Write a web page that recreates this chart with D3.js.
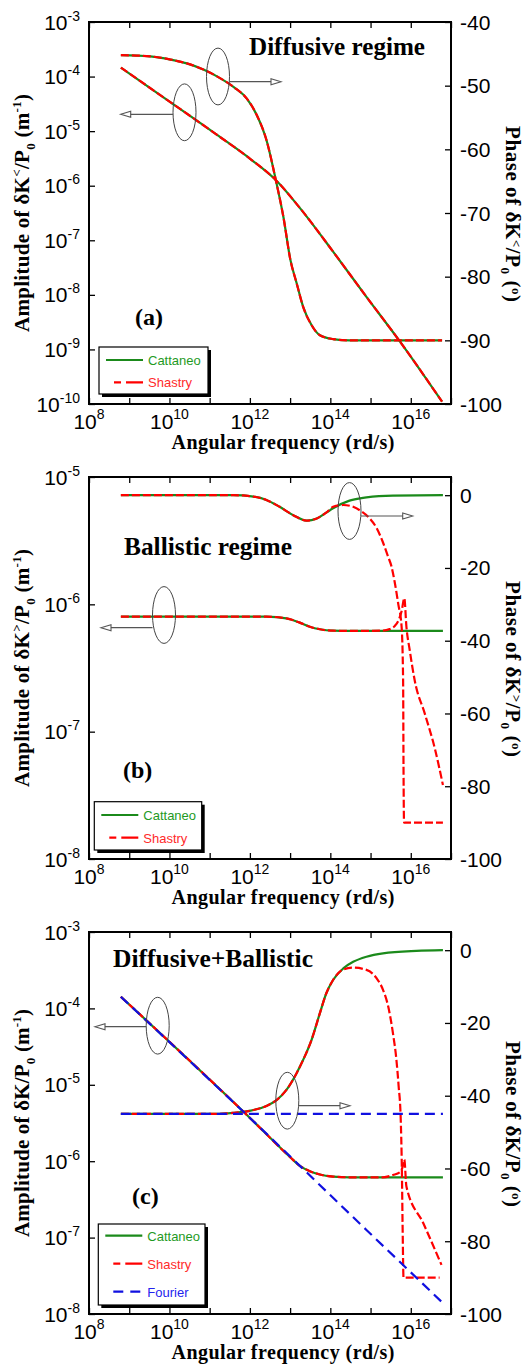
<!DOCTYPE html>
<html>
<head>
<meta charset="utf-8">
<script src="https://cdn.jsdelivr.net/npm/d3@7"></script>
<style>
  body { margin: 0; background: #fff; }
  svg { display: block; }
  .num { font-family: "Liberation Sans", Arial, sans-serif; font-size: 21px; fill: #000; }
  .ttl { font-family: "Liberation Serif", "Times New Roman", serif; font-weight: bold; fill: #000; }
  .leg { font-family: "Liberation Sans", Arial, sans-serif; font-size: 13px; }
</style>
</head>
<body>
<svg id="chart" width="527" height="1368"></svg>
<script>
// ---- shared x axis (angular frequency, rd/s) ----
const xTicks = [1e8, 1e9, 1e10, 1e11, 1e12, 1e13, 1e14, 1e15, 1e16, 1e17];
const xLabelTicks = [1e8, 1e10, 1e12, 1e14, 1e16];

// ---- (a) diffusive regime (Shastry coincides with Cattaneo) ----
const aAmpW = [6.2e8, 1.07e10, 1.35e11, 1.05e12, 4.4e12, 1.78e13, 1.17e14, 7.9e14, 5.4e15, 6.0e16];
const aAmp = [1.46e-4, 3.37e-5, 9.1e-6, 3.05e-6, 1.27e-6, 3.85e-7, 6.2e-8, 9.2e-9, 1.39e-9, 1.10e-10];
const aPhaseW = [6.2e8, 3.3e9, 1.07e10, 2.7e10, 7.2e10, 1.48e11, 3.9e11, 8.3e11, 1.48e12, 2.57e12,
  4.4e12, 6.8e12, 1.02e13, 1.45e13, 2.1e13, 3.4e13, 5.5e13, 1.17e14, 3.0e14, 6.0e16];
const aPhase = [-45.2, -45.4, -45.9, -46.5, -47.5, -48.5, -50.2, -52.0, -54.6, -58.5,
  -64.8, -70.6, -77.4, -81.0, -84.7, -87.6, -89.2, -89.8, -90.0, -90.0];

// ---- (b) ballistic regime ----
const bCattAmpW = [6.2e8, 2.57e12, 8.1e12, 1.74e13, 3.1e13, 5.5e13, 1.17e14, 3.0e14, 6.3e16];
const bCattAmp = [8.0e-7, 8.0e-7, 7.76e-7, 7.18e-7, 6.67e-7, 6.37e-7, 6.21e-7, 6.18e-7, 6.18e-7];
const bShasAmpW = [6.2e8, 2.57e12, 8.1e12, 1.74e13, 3.1e13, 5.5e13, 1.17e14, 3.0e14, 2.0e15, 3.0e15,
  4.0e15, 5.0e15, 6.0e15, 6.9e15, 7.8e15, 9.4e15, 1.26e16, 2.24e16, 4.0e16, 6.3e16];
const bShasAmp = [8.0e-7, 8.0e-7, 7.76e-7, 7.18e-7, 6.67e-7, 6.37e-7, 6.21e-7, 6.18e-7, 6.21e-7, 6.40e-7,
  6.76e-7, 7.53e-7, 9.0e-7, 1.12e-6, 6.64e-7, 4.38e-7, 2.50e-7, 1.38e-7, 7.3e-8, 3.81e-8];
const bCattPhaseW = [6.2e8, 3.9e11, 1.23e12, 2.57e12, 5.5e12, 1.2e13, 2.57e13, 4.6e13, 7.9e13, 1.17e14,
  3.0e14, 7.9e14, 3.6e15, 6.3e16];
const bCattPhase = [0, 0, -0.4, -1.3, -3.2, -5.5, -7.0, -6.4, -4.8, -3.6, -1.5, -0.6, -0.1, 0];
const bShasPhaseW = [6.2e8, 3.9e11, 1.23e12, 2.57e12, 5.5e12, 1.2e13, 2.57e13, 4.6e13, 7.9e13, 1.17e14,
  2.1e14, 3.7e14, 6.0e14, 9.5e14, 1.41e15, 2.04e15, 2.75e15, 3.3e15, 4.0e15, 4.9e15,
  5.9e15, 6.45e15, 6.6e15, 6.8e15, 6.3e16];
const bShasPhase = [0, 0, -0.4, -1.3, -3.2, -5.5, -7.0, -6.4, -4.8, -3.2,
  -2.7, -3.2, -4.5, -6.4, -9.0, -13.0, -17.0, -19.5, -24, -30,
  -36, -51, -75, -90, -90];

// ---- (c) diffusive + ballistic ----
const cCattAmpW = [6.2e8, 1.05e12, 1.02e13, 1.74e13, 3.1e13, 5.5e13, 1.17e14, 3.0e14, 6.3e16];
const cCattAmp = [1.42e-4, 3.6e-6, 1.12e-6, 8.7e-7, 7.4e-7, 6.7e-7, 6.3e-7, 6.16e-7, 6.16e-7];
const cShasAmpW = [6.2e8, 1.05e12, 1.02e13, 1.74e13, 3.1e13, 5.5e13, 1.17e14, 3.0e14, 2.04e15, 3.6e15,
  5.4e15, 6.3e15, 6.9e15, 7.8e15, 2.04e16, 5.8e16];
const cShasAmp = [1.42e-4, 3.6e-6, 1.12e-6, 8.7e-7, 7.4e-7, 6.7e-7, 6.3e-7, 6.16e-7, 6.16e-7, 6.6e-7,
  7.2e-7, 8.5e-7, 1.05e-6, 4.65e-7, 1.55e-7, 4.4e-8];
const cFourAmpW = [6.2e8, 1.05e12, 7.9e14, 5.8e16];
const cFourAmp = [1.42e-4, 3.6e-6, 1.26e-7, 1.45e-8];
const cCattPhaseW = [6.2e8, 1.48e11, 3.9e11, 1.05e12, 2.57e12, 4.6e12, 8.1e12, 1.45e13, 2.1e13, 3.4e13,
  5.5e13, 7.9e13, 1.17e14, 2.1e14, 3.7e14, 7.9e14, 2.04e15, 1.38e16, 6.3e16];
const cCattPhase = [-45, -45, -44.7, -44.1, -42.8, -41.2, -38.4, -33.8, -30.2, -24.7,
  -17.3, -11.9, -8.2, -5.0, -3.2, -1.8, -0.86, -0.2, 0];
const cShasPhaseW = [6.2e8, 1.48e11, 3.9e11, 1.05e12, 2.57e12, 4.6e12, 8.1e12, 1.45e13, 2.1e13, 3.4e13,
  5.5e13, 7.9e13, 1.17e14, 2.1e14, 3.7e14, 7.9e14, 1.41e15, 2.04e15, 2.75e15, 3.6e15,
  4.4e15, 5.0e15, 5.6e15, 6.0e15, 6.3e15, 6.6e15, 5.2e16];
const cShasPhase = [-45, -45, -44.7, -44.1, -42.8, -41.2, -38.4, -33.8, -30.2, -24.7,
  -17.3, -11.9, -8.2, -5.3, -4.8, -5.4, -7.7, -10.9, -15.5, -22.8,
  -30.2, -37.5, -45.8, -60, -78, -90, -90];
const cFourPhaseW = [6.2e8, 6.3e16];
const cFourPhase = [-45, -45];

// ---- layout ----
const svg = d3.select("#chart");
const LEFT = 89, W = 362, H = 382;
const x = d3.scaleLog().domain([1e8, 1e17]).range([0, W]);

const styles = {
  cattaneo: { stroke: "#1b8a1b", dash: null, text: "#1f9a1f", label: "Cattaneo" },
  shastry: { stroke: "#ff0000", dash: "8,3", text: "#ff2a2a", label: "Shastry" },
  fourier: { stroke: "#1010e0", dash: "10,6", text: "#2323ee", label: "Fourier" }
};
const legendDash = { cattaneo: null, shastry: "7,5,17", fourier: "10,7" };

function rich(t, parts, small, up) {
  let cur = 0;
  parts.forEach(([s, k]) => {
    const target = k === "sup" ? -up : k === "sub" ? up * 0.8 : 0;
    const ts = t.append("tspan").attr("dy", target - cur).text(s);
    if (k !== "n") ts.attr("font-size", small);
    cur = target;
  });
}

function arrow(x1, x2, y) {
  const dir = x2 > x1 ? 1 : -1;
  svg.append("line").attr("x1", x1).attr("x2", x2 - dir * 9).attr("y1", y).attr("y2", y)
    .attr("stroke", "#555").attr("stroke-width", 1.2);
  svg.append("path")
    .attr("d", `M${x2},${y} L${x2 - dir * 10},${y - 3} L${x2 - dir * 10},${y + 3} Z`)
    .attr("fill", "#fff").attr("stroke", "#555").attr("stroke-width", 1.1);
}

function drawPanel(p) {
  const g = svg.append("g").attr("transform", `translate(${LEFT},${p.top})`);
  const yAmp = d3.scaleLog().domain(p.ampDomain).range([H, 0]);
  const yPh = d3.scaleLinear().domain(p.phaseDomain).range([H, 0]);

  // inward ticks on all four sides
  g.append("g").attr("class", "ax").attr("transform", `translate(0,${H})`)
    .call(d3.axisBottom(x).tickValues(xTicks).tickSize(-6).tickFormat(""));
  g.append("g").attr("class", "ax")
    .call(d3.axisTop(x).tickValues(xTicks).tickSize(-6).tickFormat(""));
  g.append("g").attr("class", "ax")
    .call(d3.axisLeft(yAmp).tickValues(p.ampTicks).tickSize(-6).tickFormat(""));
  g.append("g").attr("class", "ax").attr("transform", `translate(${W},0)`)
    .call(d3.axisRight(yPh).tickValues(p.phaseTicks).tickSize(-6).tickFormat(""));
  g.selectAll(".ax .domain").remove();
  g.selectAll(".ax line").attr("stroke", "#000").attr("stroke-width", 1.3);

  // tick labels
  xLabelTicks.forEach(v => {
    const t = g.append("text").attr("class", "num").attr("x", x(v)).attr("y", H + 25)
      .attr("text-anchor", "middle");
    rich(t, [["10", "n"], [String(Math.round(Math.log10(v))), "sup"]], 14, 10);
  });
  p.ampTicks.forEach(v => {
    const t = g.append("text").attr("class", "num").attr("x", -9).attr("y", yAmp(v) + 7.5)
      .attr("text-anchor", "end");
    rich(t, [["10", "n"], [String(Math.round(Math.log10(v))), "sup"]], 14, 9);
  });
  p.phaseTicks.forEach(v => {
    g.append("text").attr("class", "num").attr("x", W + 9).attr("y", yPh(v) + 7.5)
      .text(v);
  });

  // curves
  p.series.forEach(s => {
    const y = s.axis === "amp" ? yAmp : yPh;
    const line = d3.line().x(d => x(d[0])).y(d => y(d[1])).curve(d3.curveMonotoneX);
    const st = styles[s.kind];
    g.append("path").attr("d", line(d3.zip(s.w, s.v)))
      .attr("fill", "none").attr("stroke", st.stroke).attr("stroke-width", 2.2)
      .attr("stroke-dasharray", st.dash);
  });

  // frame
  g.append("rect").attr("width", W).attr("height", H)
    .attr("fill", "none").attr("stroke", "#000").attr("stroke-width", 2);

  // axis titles
  svg.append("text").attr("class", "ttl").attr("font-size", 20)
    .attr("x", 283).attr("y", p.top + H + 45).attr("text-anchor", "middle")
    .attr("textLength", 223).attr("lengthAdjust", "spacing")
    .text("Angular frequency (rd/s)");

  const lt = svg.append("text").attr("class", "ttl").attr("font-size", 21)
    .attr("text-anchor", "middle").attr("textLength", p.llen).attr("lengthAdjust", "spacing")
    .attr("transform", `translate(28.5,${p.top + H / 2}) rotate(-90)`);
  const k = p.sym ? [["Amplitude of \u03b4K", "n"], [p.sym, "sup"], ["/P", "n"]] : [["Amplitude of \u03b4K/P", "n"]];
  rich(lt, k.concat([["0", "sub"], ["\u00a0(m", "n"], ["-1", "sup"], [")", "n"]]), 13, 8);

  const rt = svg.append("text").attr("class", "ttl").attr("font-size", 21)
    .attr("text-anchor", "middle").attr("textLength", p.rlen).attr("lengthAdjust", "spacing")
    .attr("transform", `translate(506,${p.top + H / 2 + 1}) rotate(90)`);
  const r = p.sym ? [["Phase of \u03b4K", "n"], [p.sym, "sup"], ["/P", "n"]] : [["Phase of \u03b4K/P", "n"]];
  rich(rt, r.concat([["0", "sub"], ["\u00a0(", "n"], ["o", "sup"], [")", "n"]]), 13, 6);

  // panel title and tag
  svg.append("text").attr("class", "ttl").attr("font-size", 25)
    .attr("x", p.title.x).attr("y", p.title.y)
    .attr("textLength", p.title.len).attr("lengthAdjust", "spacingAndGlyphs")
    .text(p.title.text);
  svg.append("text").attr("class", "ttl").attr("font-size", 24)
    .attr("x", p.tag.x).attr("y", p.tag.y).text(p.tag.text);

  // legend
  const L = p.legend;
  svg.append("rect").attr("x", L.x + 3).attr("y", L.y + 3).attr("width", L.w).attr("height", L.h)
    .attr("fill", "#000");
  svg.append("rect").attr("x", L.x).attr("y", L.y).attr("width", L.w).attr("height", L.h)
    .attr("fill", "#fff").attr("stroke", "#000").attr("stroke-width", 1.2);
  L.items.forEach((kind, i) => {
    const yy = L.y + L.first + i * L.gap;
    const st = styles[kind];
    const x0 = kind === "cattaneo" ? L.x + 7 : L.x + 15;
    svg.append("line").attr("x1", x0).attr("x2", L.x + 44).attr("y1", yy).attr("y2", yy)
      .attr("stroke", st.stroke).attr("stroke-width", 2.2)
      .attr("stroke-dasharray", legendDash[kind]);
    svg.append("text").attr("class", "leg").attr("x", L.x + 49).attr("y", yy + 5)
      .attr("fill", st.text).text(st.label);
  });

  // ellipse + arrow callouts
  p.notes.forEach(n => {
    svg.append("ellipse").attr("cx", n.cx).attr("cy", n.cy).attr("rx", 11.5).attr("ry", 28.4)
      .attr("fill", "none").attr("stroke", "#444").attr("stroke-width", 1);
    arrow(n.x1, n.x2, n.ay);
  });
}

const panels = [
  {
    top: 22, sym: "<", llen: 238, rlen: 176,
    ampDomain: [1e-10, 1e-3], ampTicks: [1e-10, 1e-9, 1e-8, 1e-7, 1e-6, 1e-5, 1e-4, 1e-3],
    phaseDomain: [-100, -40], phaseTicks: [-100, -90, -80, -70, -60, -50, -40],
    series: [
      { axis: "amp", kind: "cattaneo", w: aAmpW, v: aAmp },
      { axis: "phase", kind: "cattaneo", w: aPhaseW, v: aPhase },
      { axis: "amp", kind: "shastry", w: aAmpW, v: aAmp },
      { axis: "phase", kind: "shastry", w: aPhaseW, v: aPhase }
    ],
    title: { text: "Diffusive regime", x: 249, y: 55, len: 176 },
    tag: { text: "(a)", x: 135, y: 325 },
    legend: { x: 99, y: 347, w: 109, h: 47, first: 13, gap: 22.3, items: ["cattaneo", "shastry"] },
    notes: [
      { cx: 218, cy: 76.5, x1: 229.5, x2: 281, ay: 81.7 },
      { cx: 184.5, cy: 112.3, x1: 173, x2: 120.7, ay: 114.3 }
    ]
  },
  {
    top: 477, sym: ">", llen: 238, rlen: 176,
    ampDomain: [1e-8, 1e-5], ampTicks: [1e-8, 1e-7, 1e-6, 1e-5],
    phaseDomain: [-100, 5], phaseTicks: [-100, -80, -60, -40, -20, 0],
    series: [
      { axis: "amp", kind: "cattaneo", w: bCattAmpW, v: bCattAmp },
      { axis: "phase", kind: "cattaneo", w: bCattPhaseW, v: bCattPhase },
      { axis: "amp", kind: "shastry", w: bShasAmpW, v: bShasAmp },
      { axis: "phase", kind: "shastry", w: bShasPhaseW, v: bShasPhase }
    ],
    title: { text: "Ballistic regime", x: 124, y: 555, len: 168 },
    tag: { text: "(b)", x: 123, y: 778 },
    legend: { x: 94.3, y: 801.7, w: 107.4, h: 48.3, first: 13.3, gap: 22.7, items: ["cattaneo", "shastry"] },
    notes: [
      { cx: 349.5, cy: 511, x1: 361, x2: 412.7, ay: 516 },
      { cx: 164, cy: 615, x1: 152.5, x2: 101, ay: 627.7 }
    ]
  },
  {
    top: 932, sym: null, llen: 228, rlen: 166,
    ampDomain: [1e-8, 1e-3], ampTicks: [1e-8, 1e-7, 1e-6, 1e-5, 1e-4, 1e-3],
    phaseDomain: [-100, 5], phaseTicks: [-100, -80, -60, -40, -20, 0],
    series: [
      { axis: "amp", kind: "cattaneo", w: cCattAmpW, v: cCattAmp },
      { axis: "phase", kind: "cattaneo", w: cCattPhaseW, v: cCattPhase },
      { axis: "amp", kind: "shastry", w: cShasAmpW, v: cShasAmp },
      { axis: "phase", kind: "shastry", w: cShasPhaseW, v: cShasPhase },
      { axis: "amp", kind: "fourier", w: cFourAmpW, v: cFourAmp },
      { axis: "phase", kind: "fourier", w: cFourPhaseW, v: cFourPhase }
    ],
    title: { text: "Diffusive+Ballistic", x: 113, y: 967, len: 200 },
    tag: { text: "(c)", x: 132, y: 1204 },
    legend: { x: 98.3, y: 1224, w: 106.7, h: 81, first: 11.7, gap: 28, items: ["cattaneo", "shastry", "fourier"] },
    notes: [
      { cx: 157.7, cy: 1025.7, x1: 146, x2: 95, ay: 1026.7 },
      { cx: 287.3, cy: 1100.7, x1: 299, x2: 350, ay: 1105.7 }
    ]
  }
];

panels.forEach(drawPanel);
</script>
</body>
</html>
